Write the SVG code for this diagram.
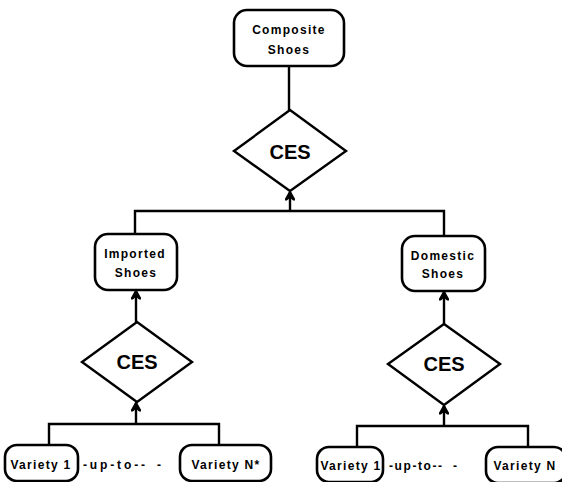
<svg xmlns="http://www.w3.org/2000/svg" width="562" height="482" viewBox="0 0 562 482">
<style>
.box{fill:#fff;stroke:#000;stroke-width:2.6}
.dia{fill:#fff;stroke:#000;stroke-width:2.4}
.ln{fill:none;stroke:#000;stroke-width:2.4}
.lbl{font-family:"Liberation Sans",Arial,sans-serif;font-weight:bold;font-size:12px;letter-spacing:1.3px;text-anchor:middle;fill:#000}
.ces{font-family:"Liberation Sans",Arial,sans-serif;font-weight:bold;font-size:20px;text-anchor:middle;fill:#000}
.dash{font-family:"Liberation Sans",Arial,sans-serif;font-weight:bold;font-size:12px;fill:#000}
</style>
<defs>
<marker id="arr" viewBox="0 0 10 10" refX="9" refY="5" markerWidth="10" markerHeight="10" markerUnits="userSpaceOnUse" orient="auto">
<path d="M10,5 L1,0 L1,1.5 L4,5 L1,8.5 L1,10 Z" fill="#000" stroke="#000" stroke-width="1.2" stroke-linejoin="round"/>
</marker>
</defs>
<g id="connectors">
<line class="ln" x1="289" y1="66" x2="289" y2="110"/>
<line class="ln" x1="290" y1="211" x2="290" y2="192" marker-end="url(#arr)"/>
<polyline class="ln" points="135,234 135,211 444,211 444,236"/>
<line class="ln" x1="136" y1="322" x2="136" y2="291" marker-end="url(#arr)"/>
<line class="ln" x1="444" y1="324" x2="444" y2="292" marker-end="url(#arr)"/>
<line class="ln" x1="136" y1="424" x2="136" y2="403" marker-end="url(#arr)"/>
<polyline class="ln" points="49,445 49,424 219,424 219,445"/>
<line class="ln" x1="444" y1="426" x2="444" y2="406" marker-end="url(#arr)"/>
<polyline class="ln" points="357,447 357,426 528,426 528,447"/>
</g>
<g id="composite">
<rect class="box" x="234" y="10" width="110" height="56" rx="13"/>
<text class="lbl" x="289" y="34" letter-spacing="1.5">Composite</text>
<text class="lbl" x="289" y="54" letter-spacing="1.5">Shoes</text>
</g>
<g id="ces-top">
<polygon class="dia" points="290,110 346,151 290,191 234,151"/>
<text class="ces" x="290" y="159">CES</text>
</g>
<g id="imported">
<rect class="box" x="95" y="234" width="82" height="56" rx="13"/>
<text class="lbl" x="135" y="258" letter-spacing="1.1">Imported</text>
<text class="lbl" x="136" y="277">Shoes</text>
</g>
<g id="domestic">
<rect class="box" x="402" y="236" width="83" height="55" rx="13"/>
<text class="lbl" x="443" y="260" letter-spacing="1.5">Domestic</text>
<text class="lbl" x="443" y="278">Shoes</text>
</g>
<g id="ces-left">
<polygon class="dia" points="137,322 192,362 137,402 82,362"/>
<text class="ces" x="137" y="369">CES</text>
</g>
<g id="ces-right">
<polygon class="dia" points="444,324 500,364 444,405 388,364"/>
<text class="ces" x="444" y="371">CES</text>
</g>
<g id="left-variety1">
<rect class="box" x="5" y="445" width="73" height="36" rx="12"/>
<text class="lbl" x="41" y="469" letter-spacing="1.1">Variety 1</text>
</g>
<g id="left-upto">
<text class="dash" x="83" y="469" textLength="62" lengthAdjust="spacing">-up-to--</text>
<text class="dash" x="157" y="469">-</text>
</g>
<g id="left-varietyN">
<rect class="box" x="180" y="445" width="91" height="36" rx="12"/>
<text class="lbl" x="226" y="469" letter-spacing="1.1">Variety N*</text>
</g>
<g id="right-variety1">
<rect class="box" x="317" y="447" width="66" height="35" rx="12"/>
<text class="lbl" x="351" y="470" letter-spacing="0.5">Variety 1</text>
</g>
<g id="right-upto">
<text class="dash" x="389" y="470" textLength="53" lengthAdjust="spacing">-up-to--</text>
<text class="dash" x="453" y="470">-</text>
</g>
<g id="right-varietyN">
<rect class="box" x="486" y="447" width="80" height="36" rx="12"/>
<text class="lbl" x="525" y="470" letter-spacing="1.1">Variety N</text>
</g>
</svg>
